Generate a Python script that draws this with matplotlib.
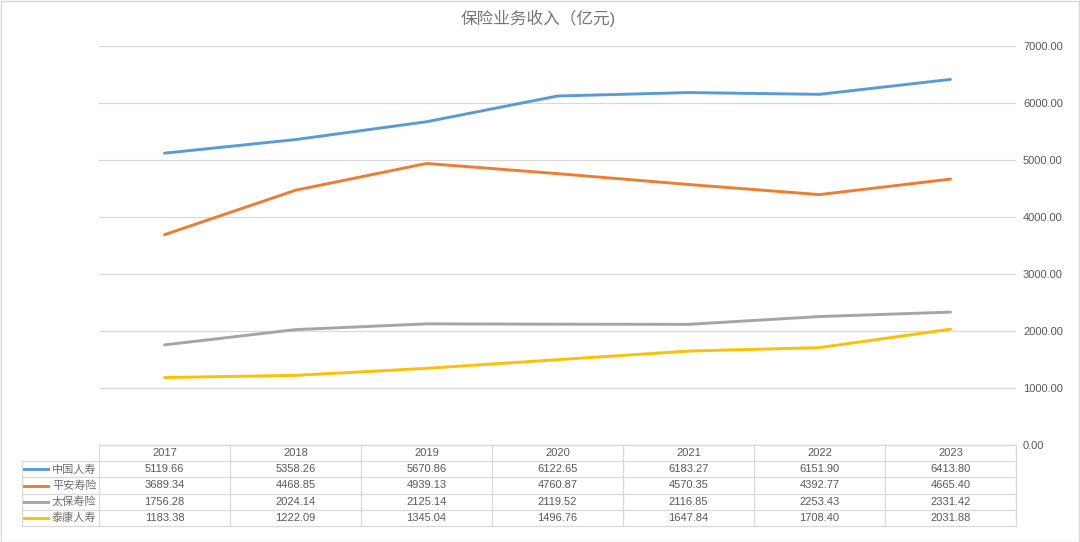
import matplotlib
matplotlib.use("Agg")
import matplotlib.pyplot as plt
from matplotlib.patches import Rectangle

plt.rcParams['font.family'] = ['Liberation Sans', 'Noto Sans CJK SC', 'DejaVu Sans']

years = ['2017', '2018', '2019', '2020', '2021', '2022', '2023']
names = ['中国人寿', '平安寿险', '太保寿险', '泰康人寿']
china_life = [5119.66, 5358.26, 5670.86, 6122.65, 6183.27, 6151.90, 6413.80]
pingan = [3689.34, 4468.85, 4939.13, 4760.87, 4570.35, 4392.77, 4665.40]
cpic = [1756.28, 2024.14, 2125.14, 2119.52, 2116.85, 2253.43, 2331.42]
taikang = [1183.38, 1222.09, 1345.04, 1496.76, 1647.84, 1708.40, 2031.88]
series = [china_life, pingan, cpic, taikang]
colors = ['#5B9BD5', '#ED7D31', '#A5A5A5', '#FFC000']
yticks = [0, 1000, 2000, 3000, 4000, 5000, 6000, 7000]

W, H = 1080, 542
fig = plt.figure(figsize=(W / 100, H / 100), dpi=100)
fig.patches.append(Rectangle((0.5 / W, 0.5 / H), 1 - 1.5 / W, 1 - 1.5 / H,
                             transform=fig.transFigure, fill=False,
                             edgecolor='#d9d9d9', linewidth=1))

def px(x0, y0, x1, y1):
    return [x0 / W, 1 - y1 / H, (x1 - x0) / W, (y1 - y0) / H]

txtc = '#595959'
gridc = '#d9d9d9'

ax = fig.add_axes(px(99, 46, 1016, 445))
xs = list(range(len(years)))
for s, c in zip(series, colors):
    ax.plot(xs, s, color=c, linewidth=2.1, solid_capstyle='round')
ax.set_xlim(-0.5, len(years) - 0.5)
ax.set_ylim(0, 7000)
ax.set_yticks(yticks)
ax.set_yticklabels([f'{v:.2f}' for v in yticks], color=txtc, fontsize=8)
ax.yaxis.tick_right()
ax.tick_params(axis='y', length=0, pad=5)
ax.set_xticks([])
ax.grid(axis='y', color=gridc, linewidth=0.9)
ax.set_axisbelow(True)
for sp in ax.spines.values():
    sp.set_visible(False)

fig.text(538 / W, 1 - 18 / H, '保险业务收入（亿元)', ha='center', va='center',
         fontsize=12, color='#767676')

# data table
colw = 917 / len(years)
left_units = (99 - 22) / colw
tax = fig.add_axes(px(22, 445, 1016, 526))
tax.set_xlim(-0.5 - left_units, len(years) - 0.5)
tax.set_ylim(5, 0)
tax.axis('off')
lw = 0.9
tax.plot([-0.5, len(years) - 0.5], [0, 0], color=gridc, lw=lw, clip_on=False)
for r in range(1, 6):
    tax.plot([-0.5 - left_units, len(years) - 0.5], [r, r], color=gridc, lw=lw, clip_on=False)
tax.plot([-0.5 - left_units] * 2, [1, 5], color=gridc, lw=lw, clip_on=False)
for i in range(len(years) + 1):
    tax.plot([i - 0.5] * 2, [0, 5], color=gridc, lw=lw, clip_on=False)
for i, y in enumerate(years):
    tax.text(i, 0.5, y, ha='center', va='center', fontsize=8, color=txtc)
for r, (nm, s, c) in enumerate(zip(names, series, colors)):
    yy = r + 1.5
    x0 = -0.5 - left_units
    tax.plot([x0 + 2 / colw, x0 + 26 / colw], [yy, yy], color=c, lw=2.1, clip_on=False)
    tax.text(x0 + 30 / colw, yy, nm, ha='left', va='center', fontsize=8, color='#6f6f6f')
    for i, v in enumerate(s):
        tax.text(i, yy, f'{v:.2f}', ha='center', va='center', fontsize=8, color=txtc)

fig.savefig('out.png', dpi=100)
